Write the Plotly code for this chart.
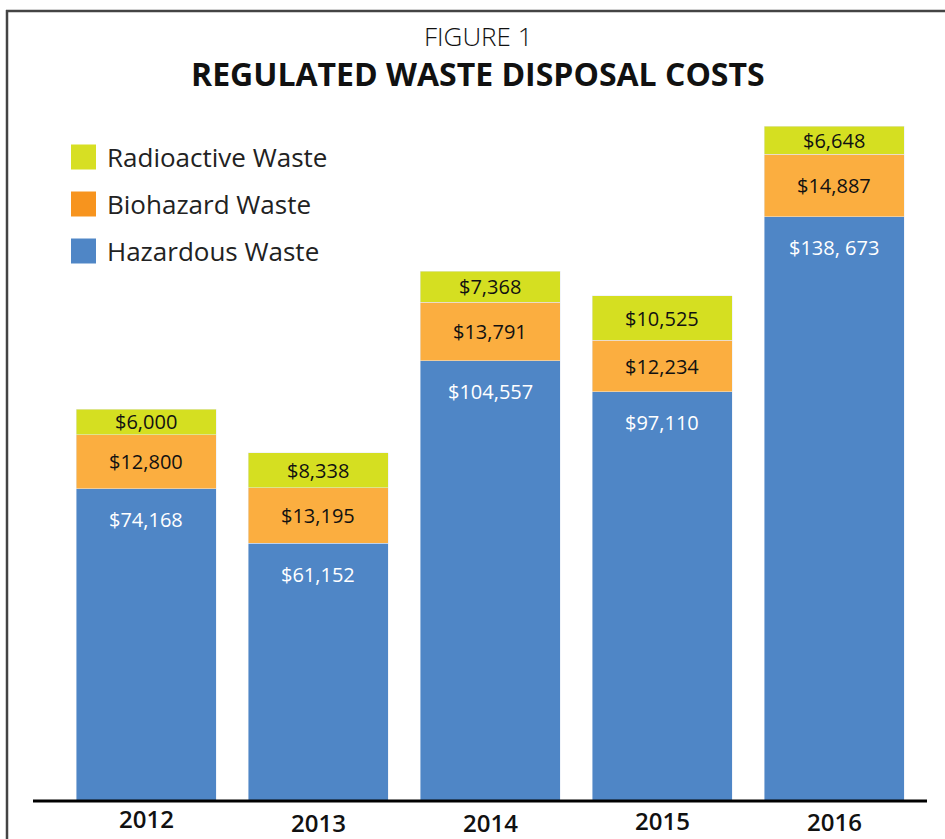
import plotly.graph_objects as go

years = ["2012", "2013", "2014", "2015", "2016"]
hazardous = [74168, 61152, 104557, 97110, 138673]
biohazard = [12800, 13195, 13791, 12234, 14887]
radioactive = [6000, 8338, 7368, 10525, 6648]
hazardous_labels = ["$74,168", "$61,152", "$104,557", "$97,110", "$138, 673"]
series_names = ["Radioactive Waste", "Biohazard Waste", "Hazardous Waste"]
year_label_y = [818, 822, 822, 820, 821]

BLUE = "#4F86C6"
ORANGE = "#FBAE40"
YELLOW = "#D5DF21"
LEG_COLORS = ["#D7DF23", "#F7941E", "#4F86C6"]
FONT = "Open Sans"

W, H = 945, 839
L, R, T, B = 60, 920, 110, 801
pw, ph = R - L, B - T


def px(x):
    return (x - L) / pw


def py(y):
    return (B - y) / ph


fig = go.Figure()
fig.add_bar(x=years, y=hazardous, marker_color=BLUE, name="Hazardous Waste", showlegend=False)
fig.add_bar(x=years, y=biohazard, marker_color=ORANGE, name="Biohazard Waste", showlegend=False)
fig.add_bar(x=years, y=radioactive, marker_color=YELLOW, name="Radioactive Waste", showlegend=False)

ann = []
for i, yr in enumerate(years):
    h, b, r = hazardous[i], biohazard[i], radioactive[i]
    ann.append(dict(x=i, y=h, yshift=-31, text=hazardous_labels[i], showarrow=False,
                    font=dict(family=FONT, size=20, color="white"), xref="x", yref="y",
                    yanchor="middle"))
    ann.append(dict(x=i, y=h + b / 2, text=f"${b:,}", showarrow=False,
                    font=dict(family=FONT, size=20, color="#111"), xref="x", yref="y",
                    yanchor="middle"))
    ann.append(dict(x=i, y=h + b + r / 2, text=f"${r:,}", showarrow=False,
                    font=dict(family=FONT, size=20, color="#111"), xref="x", yref="y",
                    yanchor="middle"))
    ann.append(dict(x=i, y=py(year_label_y[i]), text=yr, showarrow=False,
                    font=dict(family=FONT, size=24, color="#111", weight=600),
                    xref="x", yref="paper", yanchor="middle"))

ann.append(dict(x=px(478), y=py(36), text="FIGURE 1", showarrow=False, xref="paper", yref="paper",
                yanchor="middle", font=dict(family=FONT, size=26, color="#111", weight=300)))
ann.append(dict(x=px(478), y=py(74), text="<b>REGULATED WASTE DISPOSAL COSTS</b>", showarrow=False,
                xref="paper", yref="paper", yanchor="middle",
                font=dict(family=FONT, size=32, color="#111")))

shapes = []
leg_y = [157, 204, 251]
for name, col, yy in zip(series_names, LEG_COLORS, leg_y):
    shapes.append(dict(type="rect", xref="paper", yref="paper", x0=px(71), x1=px(96),
                       y0=py(yy + 12.5), y1=py(yy - 12.5), fillcolor=col, line_width=0))
    ann.append(dict(x=px(105), y=py(yy), text=name, showarrow=False, xanchor="left",
                    yanchor="middle", xref="paper", yref="paper",
                    font=dict(family=FONT, size=26, color="#222")))

# baseline
shapes.append(dict(type="line", xref="paper", yref="paper", x0=px(33), x1=px(927),
                   y0=py(801), y1=py(801), line=dict(color="black", width=3)))
# frame
shapes.append(dict(type="line", xref="paper", yref="paper", x0=px(6), x1=px(950),
                   y0=py(11), y1=py(11), line=dict(color="#444", width=2.5)))
shapes.append(dict(type="line", xref="paper", yref="paper", x0=px(7), x1=px(7),
                   y0=py(10), y1=py(850), line=dict(color="#444", width=2.5)))

fig.update_layout(
    barmode="stack", bargap=0.186,
    width=W, height=H,
    margin=dict(l=L, r=W - R, t=T, b=H - B, pad=0),
    plot_bgcolor="white", paper_bgcolor="white",
    xaxis=dict(type="category", range=[-0.5, 4.5], showticklabels=False, showgrid=False,
               zeroline=False, showline=False, ticks=""),
    yaxis=dict(range=[0, ph / 0.004213], visible=False, showgrid=False),
    annotations=ann, shapes=shapes, showlegend=False,
)

fig.write_html("out.html", config={"displayModeBar": False},
               post_script="document.body.style.margin='0';document.body.style.overflow='hidden';")
